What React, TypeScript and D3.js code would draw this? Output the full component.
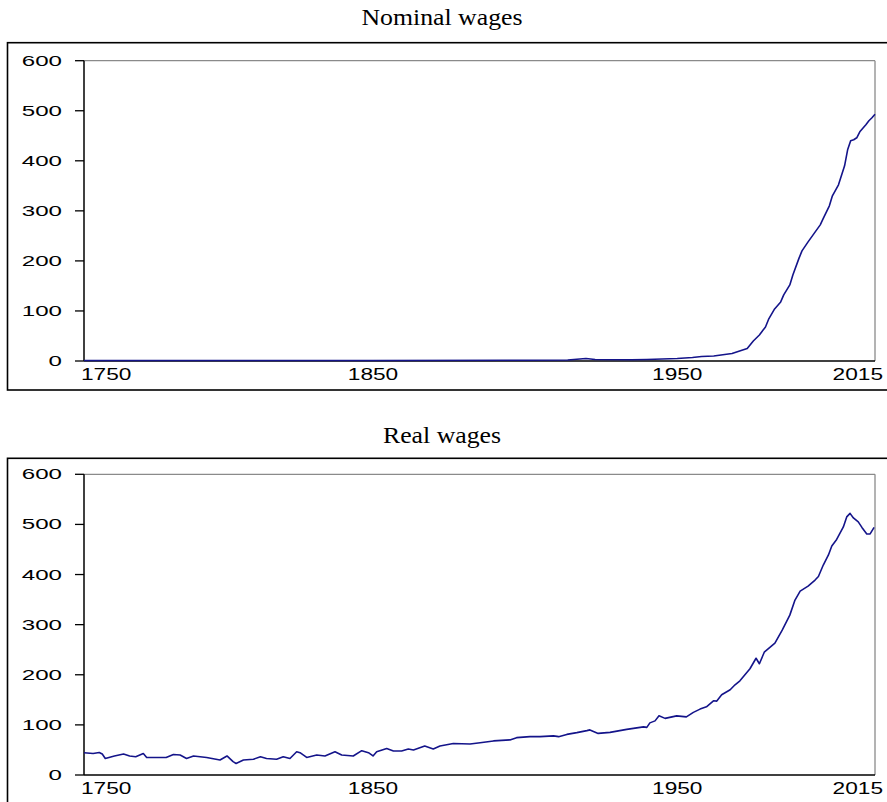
import React from 'react';
import * as d3 from 'd3';

// Nominal wages
const nominalYears = [1755, 1800, 1850, 1900, 1914, 1918, 1920, 1923, 1935, 1940, 1945, 1950, 1955, 1958, 1962, 1968, 1973, 1975, 1977, 1979, 1980, 1982, 1984, 1985, 1987, 1988, 1990, 1991, 1993, 1995, 1997, 1998, 2000, 2001, 2003, 2005, 2006, 2007, 2008, 2009, 2010, 2011, 2012, 2013, 2014, 2015];
const nominalValues = [1, 1, 1, 1.5, 2, 4, 5, 3, 2.5, 3, 4, 5, 7, 9, 10, 15, 25, 40, 52, 68, 83, 104, 118, 132, 152, 172, 205, 220, 238, 255, 272, 285, 310, 330, 352, 390, 422, 440, 442, 446, 458, 465, 472, 480, 486, 493];

// Real wages
const realYears = [1755, 1758, 1760, 1761, 1762, 1765, 1768, 1770, 1772, 1774.5, 1775.6, 1782, 1784.4, 1786.6, 1788.7, 1791, 1795.3, 1799.7, 1802, 1804, 1805, 1807.4, 1810.7, 1813, 1815, 1818.3, 1820.5, 1822.7, 1824.9, 1826, 1828.2, 1831.5, 1834.2, 1837.5, 1839.7, 1843.5, 1846.3, 1848.5, 1850, 1851.2, 1854.5, 1856.7, 1859.4, 1861.6, 1863.3, 1867, 1869.8, 1872, 1876.4, 1881.9, 1885.2, 1889.6, 1895, 1897.2, 1901.6, 1904.9, 1909.3, 1911, 1913.7, 1917, 1920.3, 1921.3, 1924, 1927.9, 1933.4, 1938.9, 1940, 1941, 1942.7, 1944, 1946, 1949.8, 1953, 1955.3, 1957.5, 1959.6, 1961.9, 1963, 1964.6, 1967.4, 1969, 1970.6, 1973.9, 1975.9, 1977, 1978.6, 1982.1, 1984.5, 1987, 1988.7, 1990.4, 1993, 1995.3, 1996.4, 1998, 1999.7, 2000.8, 2002.4, 2004.6, 2005.7, 2006.8, 2007.9, 2009.5, 2010.7, 2012.3, 2013.4, 2014.7];
const realValues = [44.5, 43, 45, 42, 33, 38, 42, 38, 36.5, 43, 35, 35, 41, 40, 33, 38, 35, 30, 38, 26.6, 23, 30, 31.5, 36.5, 33, 31.5, 36.5, 33, 46.5, 44.5, 35, 40, 38, 46.5, 40, 38, 48.5, 44.5, 38, 46.5, 53, 48, 48, 52, 50, 58, 52, 58, 63, 62, 64.5, 68, 70, 74.5, 76.5, 76.5, 78, 76.5, 81, 84.5, 88.5, 90, 83, 85, 91, 96, 95, 104, 108, 118, 113, 118, 116, 125, 131.5, 136, 148, 147.5, 160, 170, 180, 188, 212, 233, 222, 245, 263, 289, 319, 349, 367, 377, 389, 396, 419, 439, 457, 470, 495, 515, 522, 513, 505, 494, 481, 481, 494];

const yTicks = [0, 100, 200, 300, 400, 500, 600];
const xTicks = [1750, 1850, 1950, 2015];

const width = 887;
const height = 802;
const plotLeft = 84;
const plotRight = 875;
const lineColor = '#14148a';
const sans = "'Liberation Sans', Arial, sans-serif";
const serif = "'Liberation Serif', 'Times New Roman', serif";

const x = d3.scaleLinear().domain([1755, 2015]).range([plotLeft, plotRight]);

interface PanelProps {
  title: string;
  titleWidth: number;
  years: number[];
  values: number[];
  titleY: number;
  frameTop: number;
  frameBottom: number;
  plotTop: number;
  plotBottom: number;
}

const Panel: React.FC<PanelProps> = ({ title, titleWidth, years, values, titleY, frameTop, frameBottom, plotTop, plotBottom }) => {
  const y = d3.scaleLinear().domain([0, 600]).range([plotBottom, plotTop]);
  const line = d3.line<number>()
    .x((_, i) => x(years[i]))
    .y(d => y(d));

  return (
    <g>
      <text x={442} y={titleY} textAnchor="middle" fontFamily={serif}
        fontSize={23} textLength={titleWidth} lengthAdjust="spacingAndGlyphs">{title}</text>
      <rect x={7.5} y={frameTop} width={900} height={frameBottom - frameTop} fill="none" stroke="#000" strokeWidth={1.6} />
      {/* plot box: grey top/right, black axes */}
      <line x1={plotLeft} x2={plotRight} y1={plotTop} y2={plotTop} stroke="#8a8a8a" strokeWidth={1.3} />
      <line x1={plotRight} x2={plotRight} y1={plotTop} y2={plotBottom} stroke="#8a8a8a" strokeWidth={1.3} />
      <line x1={plotLeft} x2={plotLeft} y1={plotTop} y2={plotBottom} stroke="#000" strokeWidth={1.5} />
      <line x1={plotLeft} x2={plotRight} y1={plotBottom} y2={plotBottom} stroke="#000" strokeWidth={1.5} />
      {yTicks.map(t => (
        <g key={t}>
          <line x1={plotLeft - 9} x2={plotLeft} y1={y(t)} y2={y(t)} stroke="#000" strokeWidth={1.3} />
          <text x={62} y={y(t) + 5} textAnchor="end" fontFamily={sans} fontSize={14.5}
            textLength={13.4 * String(t).length} lengthAdjust="spacingAndGlyphs">{t}</text>
        </g>
      ))}
      {xTicks.map(t => {
        const len = 12.6 * String(t).length;
        let left = Math.max(81, x(t) - len / 2);
        if (left + len > 883) left = 883 - len;
        return (
          <text key={t} x={left} y={plotBottom + 19} fontFamily={sans} fontSize={16}
            textLength={len} lengthAdjust="spacingAndGlyphs">{t}</text>
        );
      })}
      <path d={line(values) || ''} fill="none" stroke={lineColor} strokeWidth={1.6} strokeLinejoin="round" />
    </g>
  );
};

const App: React.FC = () => {
  return (
    <svg width={width} height={height} style={{ position: 'absolute', left: 0, top: 0, background: '#fff' }}>
      <Panel title="Nominal wages" titleWidth={161} years={nominalYears} values={nominalValues}
        titleY={25} frameTop={42.7} frameBottom={390} plotTop={60.7} plotBottom={361} />
      <Panel title="Real wages" titleWidth={118} years={realYears} values={realValues}
        titleY={442.7} frameTop={458.3} frameBottom={830} plotTop={474.3} plotBottom={775} />
    </svg>
  );
};

export default App;
